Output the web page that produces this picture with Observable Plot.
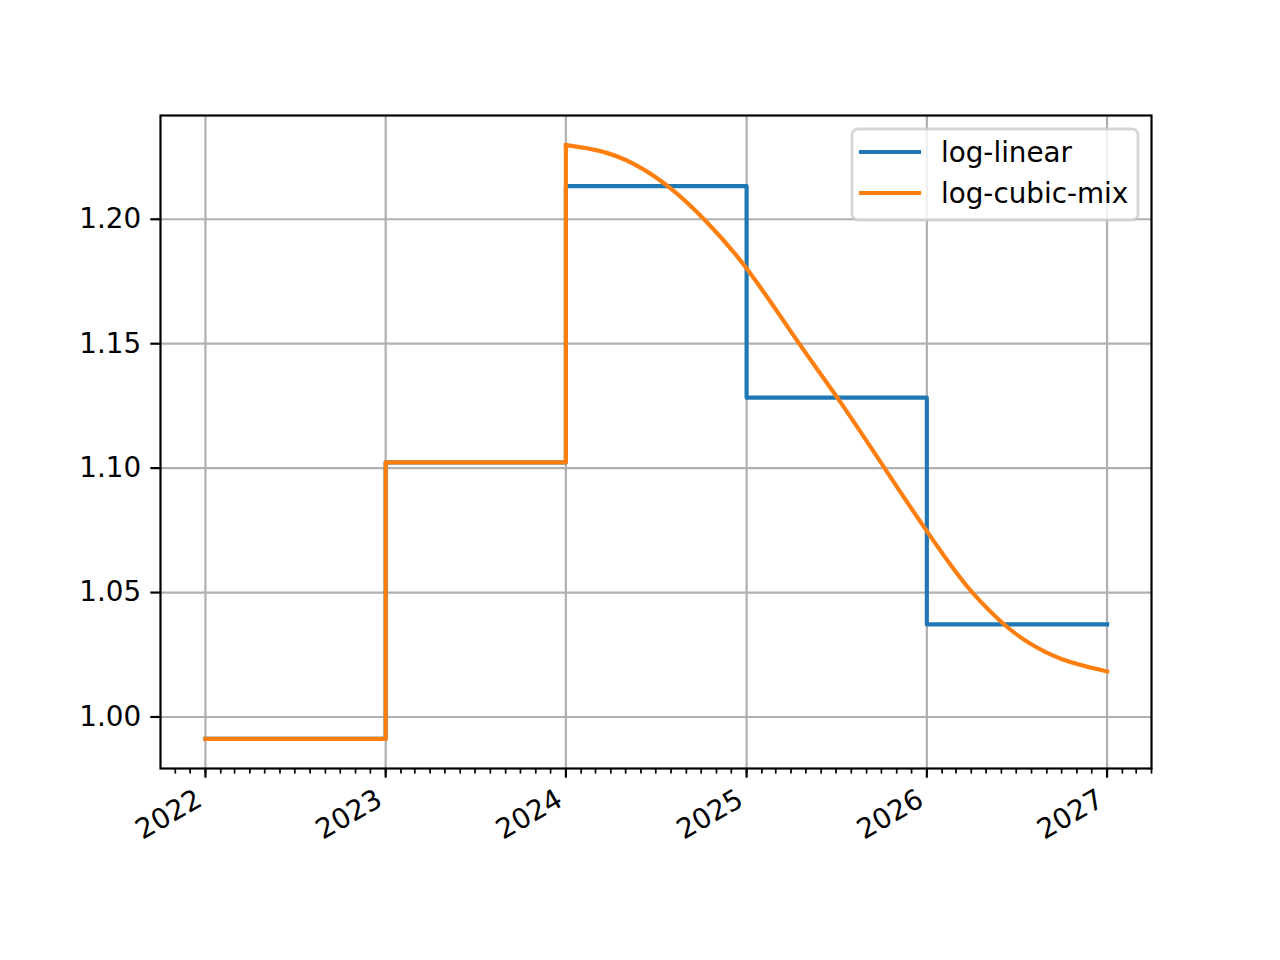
<!DOCTYPE html>
<html>
<head>
<meta charset="utf-8">
<script src="https://cdn.jsdelivr.net/npm/d3@7"></script>
<script src="https://cdn.jsdelivr.net/npm/@observablehq/plot@0.6"></script>
<style>
  html, body { margin: 0; padding: 0; background: white; }
  #wrap { position: relative; width: 1280px; height: 960px; }
  #legend { position: absolute; left: 0; top: 0; pointer-events: none; }
</style>
</head>
<body>
<div id="wrap"></div>
<script>
// ---- data ----
const stepDates = ["2022-01-01", "2023-01-01", "2024-01-01", "2025-01-01", "2026-01-01", "2027-01-01"];
const logLinear = [0.9912, 1.1023, 1.2133, 1.1283, 1.0372, 1.0372];

const cubicStepDates = ["2022-01-01", "2023-01-01"];
const cubicStepValues = [0.9912, 1.1023];

const cubicDates = ["2024-01-01", "2024-03-09", "2024-05-16", "2024-07-30", "2024-10-09",
  "2025-01-01", "2025-04-16", "2025-07-05", "2025-10-08",
  "2026-01-01", "2026-03-08", "2026-04-02", "2026-06-04", "2026-07-23", "2026-09-27",
  "2027-01-01"];
const cubicValues = [1.2298, 1.2280, 1.2231, 1.2133, 1.2000,
  1.1815, 1.1500, 1.1284, 1.0998,
  1.0744, 1.0561, 1.0500, 1.0371, 1.0299, 1.0228,
  1.0183];

const yearTicks = ["2022", "2023", "2024", "2025", "2026", "2027"];
const yTicks = [1.00, 1.05, 1.10, 1.15, 1.20];
const seriesNames = ["log-linear", "log-cubic-mix"];
const colors = ["#1f77b4", "#ff7f0e"];

// ---- build tables ----
const parse = d3.utcParse("%Y-%m-%d");
const blue = stepDates.map((d, i) => ({date: parse(d), value: logLinear[i]}));
const orangeStep = cubicStepDates.map((d, i) => ({date: parse(d), value: cubicStepValues[i]}))
  .concat([{date: parse(cubicDates[0]), value: cubicValues[0]}]);
const orangeCurve = cubicDates.map((d, i) => ({date: parse(d), value: cubicValues[i]}));
const years = yearTicks.map(y => parse(y + "-01-01"));
const xDomain = [parse("2021-10-02"), parse("2027-04-01")];
const months = d3.utcMonths(xDomain[0], d3.utcDay.offset(xDomain[1], 1));

const lw = 4.17;
const chart = Plot.plot({
  width: 1280,
  height: 960,
  marginLeft: 160,
  marginRight: 129,
  marginTop: 115,
  marginBottom: 192,
  style: {fontFamily: "DejaVu Sans", fontSize: "27.8px", color: "black", background: "white", overflow: "visible"},
  x: {type: "utc", domain: xDomain},
  y: {domain: [0.9793, 1.2417]},
  marks: [
    Plot.gridX(years, {stroke: "#b0b0b0", strokeOpacity: 1, strokeWidth: 2.2}),
    Plot.gridY(yTicks, {stroke: "#b0b0b0", strokeOpacity: 1, strokeWidth: 2.2}),
    Plot.line(blue, {x: "date", y: "value", curve: "step-after", stroke: colors[0], strokeWidth: lw, strokeLinecap: "square", strokeLinejoin: "round"}),
    Plot.line(orangeStep, {x: "date", y: "value", curve: "step-after", stroke: colors[1], strokeWidth: lw, strokeLinecap: "square", strokeLinejoin: "round"}),
    Plot.line(orangeCurve, {x: "date", y: "value", curve: "basis", stroke: colors[1], strokeWidth: lw, strokeLinecap: "square", strokeLinejoin: "round"}),
    Plot.frame({stroke: "black", strokeWidth: 2.2}),
    Plot.axisY(yTicks, {tickSize: 9.7, tickPadding: 9.7, tickFormat: d3.format(".2f"), strokeWidth: 2.2, label: null}),
    Plot.axisX(months, {tickSize: 5.6, tickFormat: () => "", strokeWidth: 1.7, label: null}),
    Plot.axisX(years, {tickSize: 9.7, tickPadding: 9.7, tickFormat: d3.utcFormat("%Y"), tickRotate: -30, strokeWidth: 2.2, label: null, textStroke: "none"}),
  ]
});
// shift rotated year labels to match matplotlib's bbox alignment
document.getElementById("wrap").appendChild(chart);
const axisGroups = chart.querySelectorAll("g[aria-label='x-axis tick label']");
const lastLabels = axisGroups[axisGroups.length - 1];
if (lastLabels) {
  lastLabels.querySelectorAll("text").forEach(t => {
    const tr = t.getAttribute("transform") || "";
    t.setAttribute("transform", "translate(-6,9) " + tr);
  });
}

// ---- legend (matplotlib-style, upper right inside axes) ----
const ns = "http://www.w3.org/2000/svg";
const leg = document.createElementNS(ns, "svg");
leg.setAttribute("id", "legend");
leg.setAttribute("width", 1280);
leg.setAttribute("height", 960);
const box = document.createElementNS(ns, "rect");
box.setAttribute("x", 852); box.setAttribute("y", 129);
box.setAttribute("width", 286); box.setAttribute("height", 91);
box.setAttribute("rx", 6); box.setAttribute("ry", 6);
box.setAttribute("fill", "rgba(255,255,255,0.8)");
box.setAttribute("stroke", "rgba(204,204,204,0.8)");
box.setAttribute("stroke-width", 2.78);
leg.appendChild(box);
seriesNames.forEach((name, i) => {
  const y = 152 + i * 41;
  const ln = document.createElementNS(ns, "line");
  ln.setAttribute("x1", 861); ln.setAttribute("x2", 919);
  ln.setAttribute("y1", y); ln.setAttribute("y2", y);
  ln.setAttribute("stroke", colors[i]); ln.setAttribute("stroke-width", lw);
  ln.setAttribute("stroke-linecap", "square");
  leg.appendChild(ln);
  const t = document.createElementNS(ns, "text");
  t.setAttribute("x", 941); t.setAttribute("y", y);
  t.setAttribute("dy", "0.35em");
  t.setAttribute("font-family", "DejaVu Sans");
  t.setAttribute("font-size", "27.8px");
  t.setAttribute("fill", "black");
  t.textContent = name;
  leg.appendChild(t);
});
document.getElementById("wrap").appendChild(leg);
</script>
</body>
</html>
